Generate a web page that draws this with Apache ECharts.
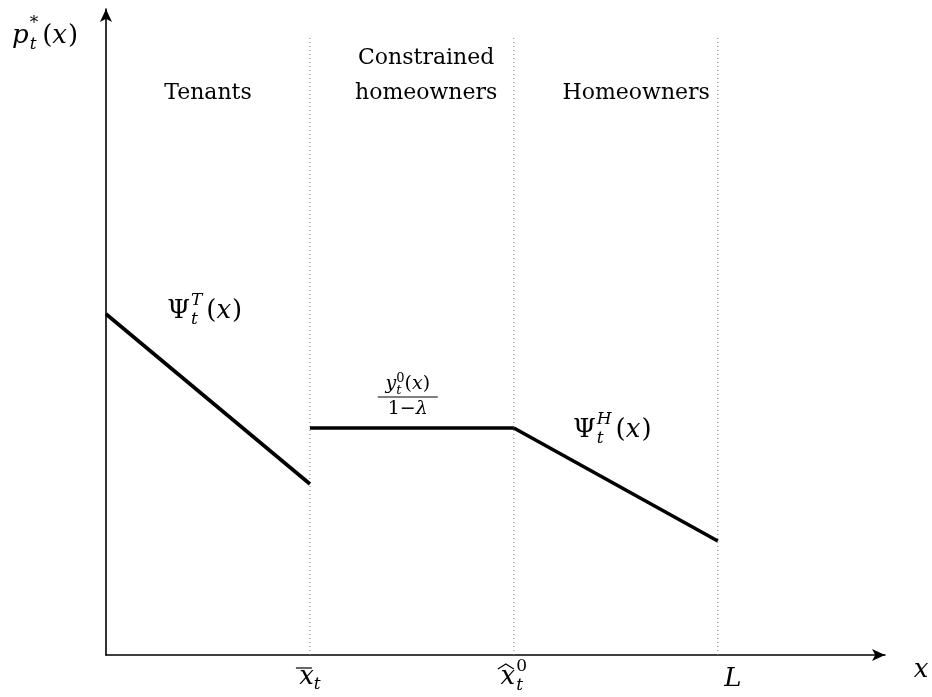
<!DOCTYPE html>
<html>
<head>
<meta charset="utf-8">
<script src="https://cdn.jsdelivr.net/npm/echarts@6/dist/echarts.min.js"></script>
<style>
  html, body { margin: 0; padding: 0; background: #fff; }
  #chart { width: 932px; height: 697px; }
</style>
</head>
<body>
<div id="chart"></div>
<script>
// Region boundaries on the x axis: x̄_t, x̂⁰_t and L
const boundaries = [1, 2, 3];
// Equilibrium price schedule p*_t(x), one piece per region
const tenantCurve = [[0, 3.41], [1, 1.71]];
const constrainedCurve = [[1, 2.27], [2, 2.27]];
const ownerCurve = [[2, 2.27], [3, 1.14]];
// Height reached by the dotted region dividers
const dividerTop = 6.2;
// Region headings and where they sit along x
const regionNames = ['Tenants', 'Constrained\nhomeowners', 'Homeowners'];
const regionCenters = [0.5, 1.57, 2.6];

const SERIF = '"DejaVu Serif", "Liberation Serif", serif';
const M = 26;   // main math size
const S = 17;   // script size
const chart = echarts.init(document.getElementById('chart'));

const dividerSeries = boundaries.map(b => ({
  type: 'line',
  data: [[b, 0], [b, dividerTop]],
  symbol: 'none',
  silent: true,
  z: 1,
  lineStyle: { color: '#7a7a7a', width: 1, type: [1, 3] }
}));

const curveStyle = { color: '#000', width: 3.6, cap: 'butt', join: 'miter' };
const curveSeries = [tenantCurve, constrainedCurve, ownerCurve].map(d => ({
  type: 'line',
  data: d,
  symbol: 'none',
  silent: true,
  z: 3,
  lineStyle: curveStyle
}));

const arrowAxis = {
  show: true, symbol: ['none', 'arrow'], symbolSize: [9, 13], symbolOffset: [0, 0],
  lineStyle: { color: '#000', width: 1.6 }
};

chart.setOption({
  animation: false,
  backgroundColor: '#fff',
  grid: { left: 106, right: 47, top: 9, bottom: 42 },
  xAxis: {
    type: 'value', min: 0, max: 3.82,
    axisLine: arrowAxis,
    axisTick: { show: false }, axisLabel: { show: false }, splitLine: { show: false }
  },
  yAxis: {
    type: 'value', min: 0, max: 6.46,
    axisLine: arrowAxis,
    axisTick: { show: false }, axisLabel: { show: false }, splitLine: { show: false }
  },
  series: dividerSeries.concat(curveSeries)
});

// ---- math-like typesetting built from small text pieces ----
const ctx = document.createElement('canvas').getContext('2d');
function fontOf(p) { return (p.it ? 'italic ' : '') + p.s + 'px ' + SERIF; }
function measure(p) { ctx.font = fontOf(p); return ctx.measureText(p.t).width + (p.gap || 0); }

// pieces: {t, s, it, dy, stack, gap}; stacked pieces share one x (sup over sub)
function mathText(ax, baseline, pieces, align) {
  let x = 0, stackStart = null, stackW = 0;
  const items = [];
  pieces.forEach(p => {
    const w = measure(p);
    if (p.stack) {
      if (stackStart === null) { stackStart = x; stackW = 0; }
      items.push({ p, x: stackStart });
      stackW = Math.max(stackW, w);
      x = stackStart + stackW;
    } else {
      stackStart = null;
      items.push({ p, x });
      x += w;
    }
  });
  const off = align === 'center' ? -x / 2 : align === 'right' ? -x : 0;
  return items.map(({ p, x: px }) => ({
    type: 'text',
    x: ax + off + px,
    y: baseline + (p.dy || 0) + 0.15 * p.s,
    z: 10,
    style: {
      text: p.t, font: fontOf(p), fill: '#000',
      textAlign: 'left', align: 'left',
      textVerticalAlign: 'bottom', verticalAlign: 'bottom'
    }
  }));
}

const px = (x, y) => chart.convertToPixel({ gridIndex: 0 }, [x, y]);
const origin = px(0, 0);
const g = [];

// Axis titles
g.push(...mathText(12, 45, [
  { t: 'p', s: M, it: true, gap: 1 },
  { t: '*', s: S, dy: -15, stack: true, gap: 4 },
  { t: 't', s: S, it: true, dy: 6, stack: true, gap: 4 },
  { t: '(', s: M }, { t: 'x', s: M, it: true, gap: 1 }, { t: ')', s: M }
], 'left'));
g.push(...mathText(921, origin[1] + 24, [{ t: 'x', s: M, it: true }], 'center'));

// Boundary labels under the x axis
const labelBase = origin[1] + 31;
const b1 = px(boundaries[0], 0)[0];
const b2 = px(boundaries[1], 0)[0];
const b3 = px(boundaries[2], 0)[0];
g.push(...mathText(b1, labelBase, [
  { t: 'x', s: M, it: true }, { t: 't', s: S, it: true, dy: 5 }
], 'center'));
g.push({ type: 'line', z: 10, shape: { x1: b1 - 14, y1: labelBase - 18, x2: b1 + 2, y2: labelBase - 18 },
  style: { stroke: '#000', lineWidth: 1.2 } });
g.push(...mathText(b2, labelBase, [
  { t: 'x', s: M, it: true, gap: 1 },
  { t: '0', s: S, dy: -13, stack: true },
  { t: 't', s: S, it: true, dy: 6, stack: true }
], 'center'));
g.push({ type: 'polyline', z: 10,
  shape: { points: [[b2 - 16, labelBase - 17], [b2 - 8, labelBase - 22], [b2 + 0, labelBase - 17]] },
  style: { stroke: '#000', lineWidth: 1.1, fill: null } });
g.push(...mathText(b3 + 15, labelBase + 2, [{ t: 'L', s: M, it: true }], 'center'));

// Region headings
regionNames.forEach((name, i) => {
  const cx = px(regionCenters[i], 0)[0];
  const lines = name.split('\n');
  lines.forEach((ln, k) => {
    const base = 101 - (lines.length - 1 - k) * 35;
    g.push(...mathText(cx, base, [{ t: ln, s: 22 }], 'center'));
  });
});

// Curve labels
const psiLabel = sup => [
  { t: 'Ψ', s: M, gap: 1 },
  { t: sup, s: S, it: true, dy: -13, stack: true, gap: 4 },
  { t: 't', s: S, it: true, dy: 6, stack: true },
  { t: '(', s: M }, { t: 'x', s: M, it: true, gap: 1 }, { t: ')', s: M }
];
g.push(...mathText(px(0.3, 0)[0], 320, psiLabel('T'), 'left'));
g.push(...mathText(px(2.29, 0)[0], 439, psiLabel('H'), 'left'));

// Fraction above the flat segment
const fc = px(1.48, constrainedCurve[0][1]);
const barY = fc[1] - 31;
g.push(...mathText(fc[0], barY - 6, [
  { t: 'y', s: 19, it: true },
  { t: '0', s: 13, dy: -8, stack: true },
  { t: 't', s: 13, it: true, dy: 4, stack: true, gap: 1 },
  { t: '(', s: 19 }, { t: 'x', s: 19, it: true }, { t: ')', s: 19 }
], 'center'));
g.push({ type: 'line', z: 10, shape: { x1: fc[0] - 30, y1: barY, x2: fc[0] + 30, y2: barY },
  style: { stroke: '#000', lineWidth: 1 } });
g.push(...mathText(fc[0], barY + 19, [
  { t: '1', s: 19 }, { t: '−', s: 19 }, { t: 'λ', s: 19, it: true }
], 'center'));

chart.setOption({ graphic: g });
</script>
</body>
</html>
